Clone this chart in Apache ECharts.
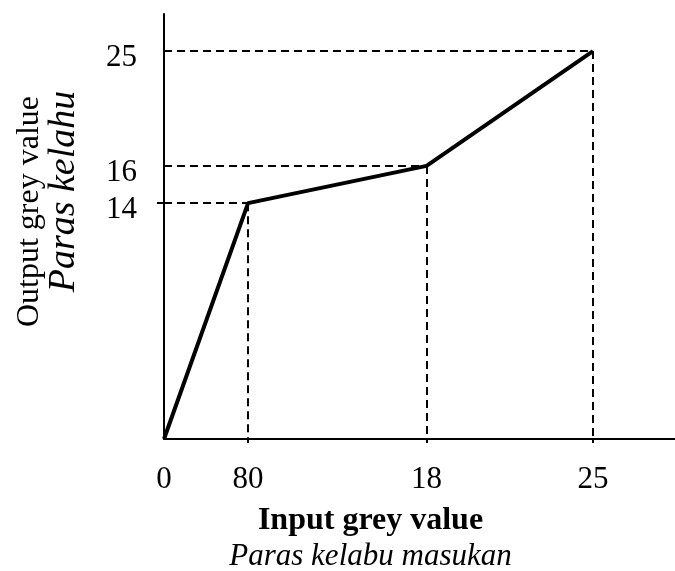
<!DOCTYPE html>
<html>
<head>
<meta charset="utf-8">
<script src="https://cdn.jsdelivr.net/npm/echarts@6/dist/echarts.min.js"></script>
<style>html,body{margin:0;padding:0;background:#fff}#c{width:675px;height:571px}</style>
</head>
<body>
<div id="c"></div>
<script>
// Plotted positions of the break points (schematic scale)
const inputPos = [0, 4.9, 15.3, 25];
const outputPos = [0, 15.2, 17.6, 25];
// Tick labels as printed
const inputLabels = ['0', '80', '18', '25'];
const outputLabels = ['', '14', '16', '25'];
const xTitle = 'Input grey value';
const xSubtitle = 'Paras kelabu masukan';
const yTitle = 'Output grey value';
const ySubtitle = 'Paras kelahu';

const FONT = '"Liberation Serif", "Times New Roman", serif';
const points = inputPos.map((x, i) => [x, outputPos[i]]);

function labelFor(values, labels, v) {
  let best = 0;
  for (let i = 0; i < values.length; i++) if (Math.abs(values[i] - v) < Math.abs(values[best] - v)) best = i;
  return labels[best];
}

const guideLines = [];
for (let i = 1; i < points.length; i++) {
  const [x, y] = points[i];
  guideLines.push([{ coord: [0, y] }, { coord: [x, y] }]);
  guideLines.push([{ coord: [x, y] }, { coord: [x, 0] }]);
}

const chart = echarts.init(document.getElementById('c'), null, { renderer: 'canvas' });
chart.setOption({
  animation: false,
  backgroundColor: '#fff',
  grid: { left: 164, right: 0, top: 14, bottom: 132, containLabel: false, outerBoundsMode: 'none' },
  xAxis: {
    type: 'value', min: 0, max: 29.78,
    splitLine: { show: false },
    axisLine: { show: true, onZero: false, lineStyle: { color: '#000', width: 2 } },
    axisTick: { show: true, length: 4, customValues: inputPos.slice(1), lineStyle: { color: '#000', width: 2 } },
    axisLabel: {
      customValues: inputPos, margin: 25,
      formatter: v => labelFor(inputPos, inputLabels, v),
      fontFamily: FONT, fontSize: 31, color: '#000'
    },
    name: '{b|' + xTitle + '}\n{i|' + xSubtitle + '}',
    nameLocation: 'middle', nameGap: 64,
    nameTextStyle: {
      padding: [0, 98, 0, 0],
      rich: {
        b: { fontFamily: FONT, fontSize: 32, fontWeight: 'bold', color: '#000', lineHeight: 36 },
        i: { fontFamily: FONT, fontSize: 31, fontStyle: 'italic', color: '#000', lineHeight: 36 }
      }
    }
  },
  yAxis: {
    type: 'value', min: 0, max: 27.39,
    splitLine: { show: false },
    axisLine: { show: true, onZero: false, lineStyle: { color: '#000', width: 2 } },
    axisTick: { show: true, length: 7, customValues: [outputPos[1]], lineStyle: { color: '#000', width: 2 } },
    axisLabel: {
      customValues: outputPos.slice(1), margin: 27,
      formatter: v => labelFor(outputPos, outputLabels, v),
      fontFamily: FONT, fontSize: 31, color: '#000', verticalAlign: 'top', lineHeight: 13
    },
    name: '{r|' + yTitle + '}\n{i|' + ySubtitle + '}',
    nameLocation: 'middle', nameGap: 82,
    nameTextStyle: {
      rich: {
        r: { fontFamily: FONT, fontSize: 32, color: '#000', lineHeight: 35, padding: [0, 0, 0, 30] },
        i: { fontFamily: FONT, fontSize: 38, fontStyle: 'italic', color: '#000', lineHeight: 35, padding: [0, 0, 0, 70] }
      }
    }
  },
  series: [{
    type: 'line',
    data: points,
    symbol: 'none',
    lineStyle: { color: '#000', width: 4 },
    z: 5,
    markLine: {
      silent: true,
      symbol: 'none',
      label: { show: false },
      lineStyle: { color: '#000', width: 2, type: [8, 5] },
      data: guideLines
    }
  }]
});
</script>
</body>
</html>
